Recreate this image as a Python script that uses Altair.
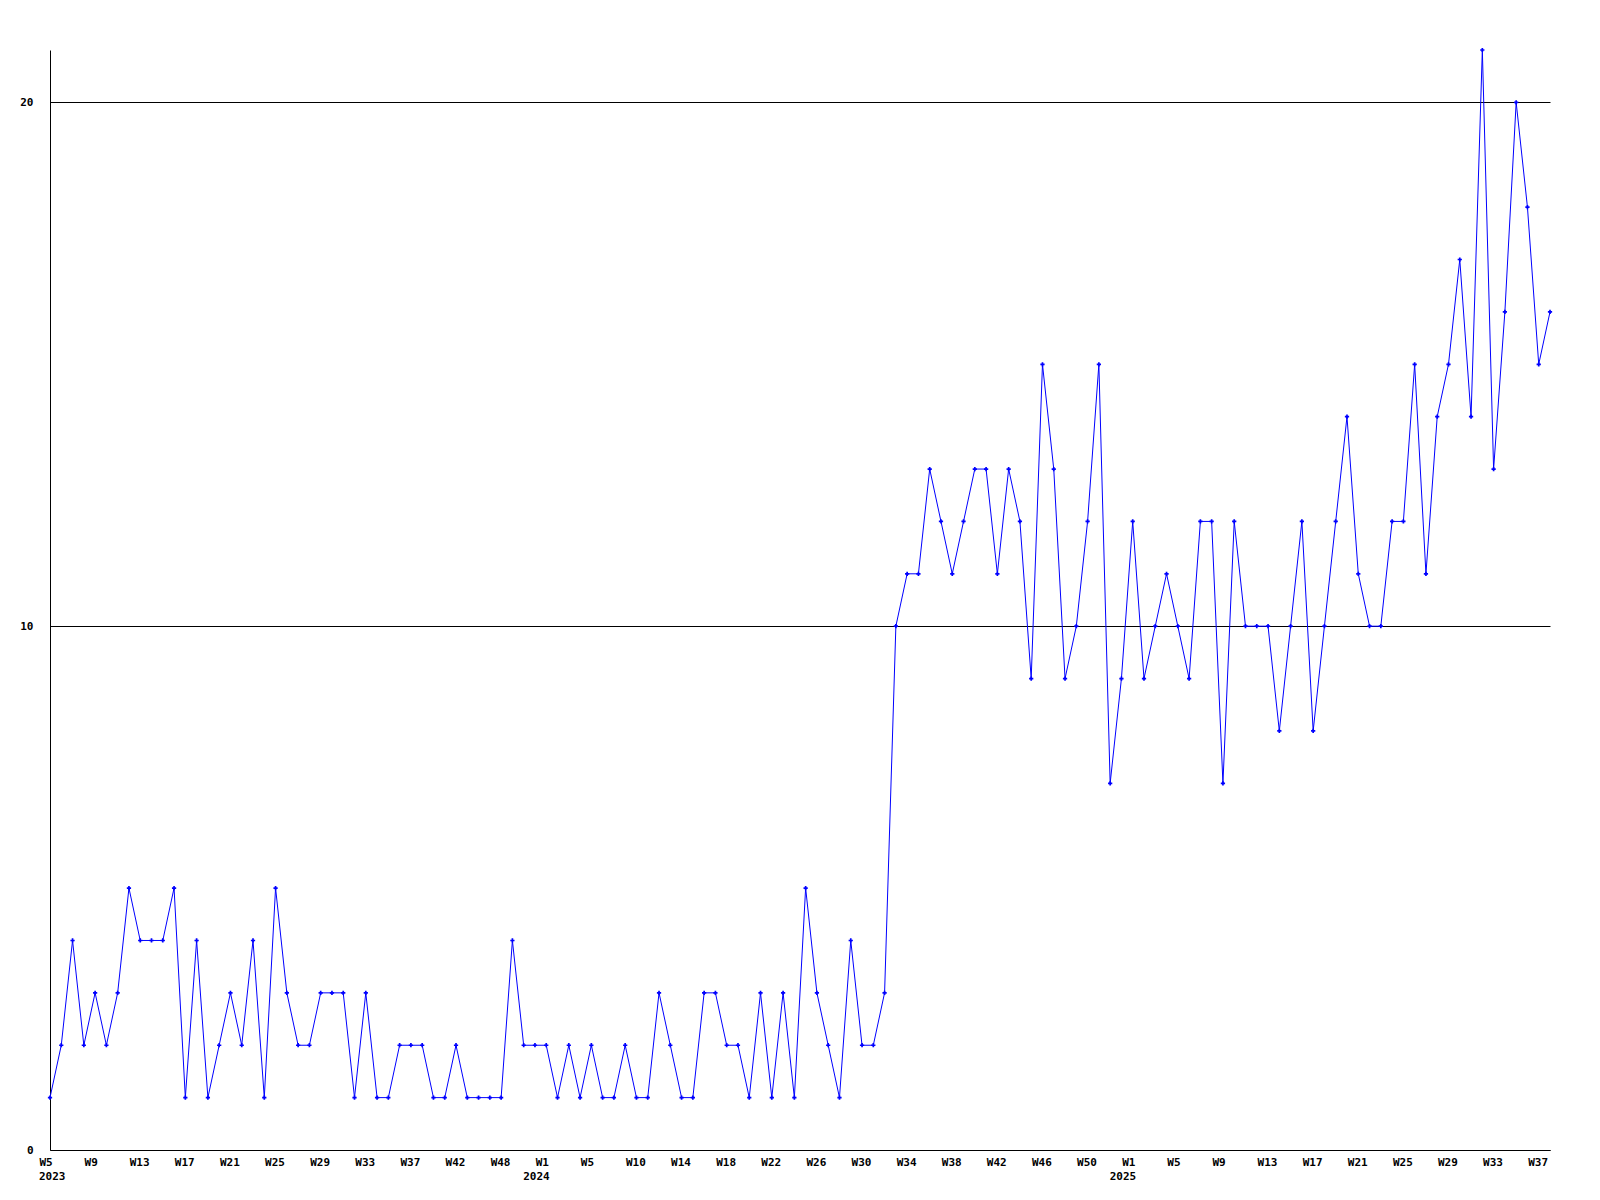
import json
import altair as alt
import pandas as pd

# Weekly counts, 2023 W5 .. 2025 W38 (one value per plotted point)
values = [
    1, 2, 4, 2, 3, 2, 3, 5, 4, 4, 4, 5, 1, 4, 1, 2, 3, 2, 4, 1, 5, 3, 2, 2,
    3, 3, 3, 1, 3, 1, 1, 2, 2, 2, 1, 1, 2, 1, 1, 1, 1, 4, 2, 2, 2, 1,
    2, 1, 2, 1, 1, 2, 1, 1, 3, 2, 1, 1, 3, 3, 2, 2, 1, 3, 1, 3, 1, 5, 3, 2,
    1, 4, 2, 2, 3,
    10, 11, 11, 13, 12, 11, 12, 13, 13, 11, 13, 12, 9, 15, 13, 9, 10, 12, 15,
    7, 9, 12, 9, 10, 11, 10, 9, 12, 12, 7,
    12, 10, 10, 10, 8, 10, 12, 8, 10, 12, 14, 11, 10, 10, 12, 12, 15, 11, 14,
    15, 17, 14, 21, 13, 16, 20, 18, 15, 16,
]

# Tick labels, one every 4 points
week_labels = [
    "W5", "W9", "W13", "W17", "W21", "W25", "W29", "W33", "W37", "W42", "W48",
    "W1", "W5", "W10", "W14", "W18", "W22", "W26", "W30", "W34", "W38", "W42",
    "W46", "W50",
    "W1", "W5", "W9", "W13", "W17", "W21", "W25", "W29", "W33", "W37",
]
year_names = ["2023", "2024", "2025"]
year_index = [0, 44, 96]
y_ticks = [0, 10, 20]

df = pd.DataFrame({"idx": list(range(len(values))), "count": values})
years = pd.DataFrame({"idx": year_index, "year": year_names})

FONT = "DejaVu Sans Mono"
label_expr = json.dumps(week_labels) + "[round(datum.value / 4)]"

x_scale = alt.Scale(domain=[0, len(values) - 1], nice=False, zero=False)
y_scale = alt.Scale(domain=[0, 21], nice=False, zero=True)

x_axis = alt.Axis(
    values=list(range(0, len(values), 4)),
    labelExpr=label_expr,
    ticks=False,
    grid=False,
    labelAlign="left",
    labelBaseline="top",
    labelOffset=-11,
    labelPadding=6,
    labelFlush=False,
    labelOverlap=False,
    labelBound=False,
    labelFont=FONT,
    labelFontWeight="bold",
    labelFontSize=11,
    labelColor="black",
    domainColor="black",
    domainWidth=1,
    title=None,
)
y_axis = alt.Axis(
    values=y_ticks,
    ticks=False,
    grid=True,
    gridColor="black",
    gridOpacity=1,
    gridWidth=1,
    labelPadding=17,
    labelFont=FONT,
    labelFontWeight="bold",
    labelFontSize=11,
    labelColor="black",
    domainColor="black",
    domainWidth=1,
    title=None,
)

base = alt.Chart(df)
line = base.mark_line(color="#0000ff", strokeWidth=1).encode(
    x=alt.X("idx:Q", scale=x_scale, axis=x_axis),
    y=alt.Y("count:Q", scale=y_scale, axis=y_axis),
)
pts = base.mark_point(
    shape="cross", filled=True, size=18, color="#0000ff", opacity=1
).encode(x="idx:Q", y="count:Q")

year_text_style = dict(
    align="left", baseline="middle", font=FONT, fontWeight="bold",
    fontSize=11, color="black",
)
yr_first = (
    alt.Chart(years)
    .transform_filter("datum.idx == 0")
    .mark_text(dx=-11, **year_text_style)
    .encode(x="idx:Q", y=alt.value(1127), text="year:N")
)
yr_rest = (
    alt.Chart(years)
    .transform_filter("datum.idx > 0")
    .mark_text(dx=-23, **year_text_style)
    .encode(x="idx:Q", y=alt.value(1127), text="year:N")
)

chart = (
    alt.layer(line, pts, yr_first, yr_rest)
    .properties(
        width=1500,
        height=1100,
        autosize=alt.AutoSizeParams(type="none"),
        padding={"left": 42, "top": 42, "right": 42, "bottom": 50},
        background="white",
    )
    .configure_view(stroke=None)
)

chart.save("out.html", embed_options={"renderer": "svg", "actions": False})
